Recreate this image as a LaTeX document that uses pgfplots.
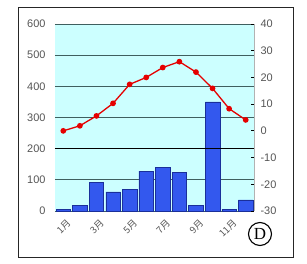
\documentclass[border=0pt]{standalone}
\usepackage{pgfplots}
\pgfplotsset{compat=1.18}
\usepackage{fontspec}
\setmainfont{Liberation Sans}
\newfontfamily\cjk{Noto Sans CJK JP}
\newfontfamily\serifD{Liberation Serif}
\definecolor{bgcyan}{HTML}{CCFFFF}
\definecolor{barblue}{HTML}{3358EE}
\definecolor{baredge}{HTML}{1A2F9A}
\definecolor{gridc}{HTML}{3F5F5F}
\definecolor{txt}{HTML}{555555}
\begin{document}
\begin{tikzpicture}[x=1bp,y=1bp]
\useasboundingbox (-55,-53) rectangle (252,211);
\draw[line width=0.9pt, black!85] (-37,-46) rectangle (238,204);
\begin{axis}[
  at={(0,0)}, anchor=south west,
  width=199bp, height=187bp, scale only axis,
  xmin=0.5, xmax=12.5, ymin=0, ymax=600,
  axis background/.style={fill=bgcyan},
  axis line style={draw=none},
  ytick={0,100,...,600},
  xtick={1,3,5,7,9,11},
  xticklabels={1月,3月,5月,7月,9月,11月},
  xticklabel style={font=\cjk\fontsize{9.5}{9.5}\selectfont, text=txt, rotate=45, anchor=north east, inner sep=0pt, xshift=-3bp, yshift=-7bp},
  yticklabel style={font=\fontsize{11}{11}\selectfont, text=txt, xshift=-6bp},
  /pgf/number format/assume math mode=true,
  major tick length=0pt,
  ymajorgrids, grid style={gridc, line width=0.8pt},
  clip=false,
]
\addplot[ybar, bar width=14.5bp, fill=barblue, draw=baredge, line width=0.5pt] coordinates {
 (1,5) (2,17) (3,91) (4,61) (5,70) (6,128) (7,141) (8,123) (9,17) (10,350) (11,5) (12,36)};
\draw[black, line width=1pt] (axis cs:0.5,200) -- (axis cs:12.5,200);
\end{axis}
\begin{axis}[
  at={(0,0)}, anchor=south west,
  width=199bp, height=187bp, scale only axis,
  xmin=0.5, xmax=12.5, ymin=-30, ymax=40,
  axis y line*=right, axis x line=none,
  axis line style={draw=black!30},
  ytick={-30,-20,...,40},
  yticklabel style={font=\fontsize{11}{11}\selectfont, text=txt, xshift=3bp},
  /pgf/number format/assume math mode=true,
  ytick style={black, line width=0.8pt}, major tick length=3bp,
  tick align=inside,
  clip=false,
]
\addplot[color=red!90!black, line width=1.3pt, mark=*, mark size=2.2pt, mark options={fill=red!90!black}] coordinates {
 (1,0) (2,1.9) (3,5.6) (4,10.3) (5,17.4) (6,20) (7,23.7) (8,25.9) (9,22) (10,15.9) (11,8.3) (12,4.1)};
\end{axis}
\node[circle, draw, line width=1.1pt, minimum size=23bp, inner sep=0pt, font=\serifD\fontsize{17}{17}\selectfont] at (205,-23) {D};
\end{tikzpicture}
\end{document}
